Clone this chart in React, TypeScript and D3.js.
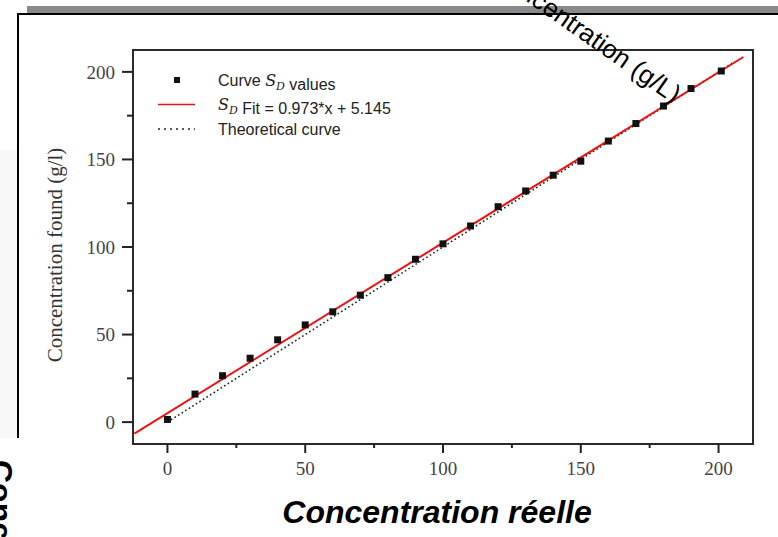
import React from "react";
import * as d3 from "d3";

const xValues = [0, 10, 20, 30, 40, 50, 60, 70, 80, 90, 100, 110, 120, 130, 140, 150, 160, 170, 180, 190, 201];
const yFound = [1.5, 16, 26.5, 36.5, 47, 55.5, 63, 72.5, 82.5, 93, 101.8, 112, 123, 132, 141, 149, 160.5, 170.5, 180.5, 190.5, 200.5];
const majorTicks = [0, 50, 100, 150, 200];
const minorTicks = [25, 75, 125, 175];
const fitSlope = 0.973;
const fitIntercept = 5.145;
const fitRange = [-12, 209];
const theoryRange = [0, 205];
const legendLabels = ["Curve ", " values", " Fit = 0.973*x + 5.145", "Theoretical curve"];

const W = 778, H = 537;
const plot = { left: 133, right: 753, top: 50, bottom: 444 };

export default function App() {
  const x = d3.scaleLinear().domain([-12.5, 212.5]).range([plot.left, plot.right]);
  const y = d3.scaleLinear().domain([-12.5, 212.5]).range([plot.bottom, plot.top]);
  const line = d3.line<[number, number]>().x(d => x(d[0])).y(d => y(d[1]));
  const fitPts: [number, number][] = fitRange.map(v => [v, fitSlope * v + fitIntercept]);
  const theoPts: [number, number][] = theoryRange.map(v => [v, v]);
  const serif = "'Liberation Serif', 'Times New Roman', serif";
  const sans = "'Liberation Sans', Arial, sans-serif";
  const SD = (
    <>
      <tspan fontFamily="'DejaVu Serif', serif" fontStyle="italic">S</tspan>
      <tspan fontFamily="'DejaVu Serif', serif" fontStyle="italic" fontSize={11} dy={4}>D</tspan>
      <tspan dy={-4}></tspan>
    </>
  );
  return (
    <svg width={W} height={H} style={{ position: "absolute", left: 0, top: 0, background: "#fff" }}>
      <rect x={0} y={150} width={17} height={288} fill="#f8f8f8" />
      <rect x={27} y={6} width={W - 27} height={7} fill="#8a8a8a" />
      <line x1={18} y1={14} x2={W} y2={14} stroke="#000" strokeWidth={2} />
      <line x1={18} y1={13} x2={18} y2={438} stroke="#000" strokeWidth={2} />

      {/* plot frame */}
      <rect x={plot.left} y={plot.top} width={plot.right - plot.left} height={plot.bottom - plot.top}
        fill="none" stroke="#2a2a2a" strokeWidth={2} />

      {/* y axis ticks */}
      {majorTicks.map(t => (
        <g key={"ym" + t}>
          <line x1={plot.left - 11} x2={plot.left} y1={y(t)} y2={y(t)} stroke="#222" strokeWidth={2} />
          <text x={plot.left - 18} y={y(t)} dy="0.35em" textAnchor="end" fontFamily={serif} fontSize={19} fill="#444">{t}</text>
        </g>
      ))}
      {minorTicks.map(t => (
        <line key={"yn" + t} x1={plot.left - 6} x2={plot.left} y1={y(t)} y2={y(t)} stroke="#222" strokeWidth={2} />
      ))}
      {/* x axis ticks */}
      {majorTicks.map(t => (
        <g key={"xm" + t}>
          <line x1={x(t)} x2={x(t)} y1={plot.bottom} y2={plot.bottom + 9} stroke="#222" strokeWidth={2} />
          <text x={x(t)} y={plot.bottom + 31} textAnchor="middle" fontFamily={serif} fontSize={19} fill="#444">{t}</text>
        </g>
      ))}
      {minorTicks.map(t => (
        <line key={"xn" + t} x1={x(t)} x2={x(t)} y1={plot.bottom} y2={plot.bottom + 4} stroke="#222" strokeWidth={2} />
      ))}

      <text transform={`translate(62, ${(plot.top + plot.bottom) / 2 + 8}) rotate(-90)`} textAnchor="middle"
        fontFamily={serif} fontSize={21} fill="#333">Concentration found (g/l)</text>

      {/* lines */}
      <path d={line(theoPts) || ""} fill="none" stroke="#222" strokeWidth={1.6} strokeDasharray="1.6 2.6" />
      <path d={line(fitPts) || ""} fill="none" stroke="#ee1111" strokeWidth={2} />
      {xValues.map((v, i) => (
        <rect key={i} x={x(v) - 3.5} y={y(yFound[i]) - 3.5} width={7} height={7} fill="#111" />
      ))}

      {/* legend */}
      <rect x={174} y={77} width={6} height={6} fill="#111" />
      <line x1={158} x2={195} y1={104.5} y2={104.5} stroke="#ee1111" strokeWidth={1.5} />
      <line x1={158} x2={195} y1={129} y2={129} stroke="#222" strokeWidth={1.5} strokeDasharray="2 4" />
      <g fontFamily={sans} fontSize={16} fill="#222">
        <text x={218} y={86}>{legendLabels[0]}{SD}{legendLabels[1]}</text>
        <text x={218} y={110}>{SD}{legendLabels[2]}</text>
        <text x={218} y={134.5}>{legendLabels[3]}</text>
      </g>

      <text x={437} y={523} textAnchor="middle" fontFamily={sans} fontWeight="bold" fontStyle="italic" fontSize={32} fill="#000">Concentration réelle</text>
      <text transform="translate(-10, 460) rotate(90)" fontFamily={sans} fontWeight="bold" fontSize={32} fill="#000">Concentration trouvée</text>
      <text transform="translate(673, 104) rotate(35)" textAnchor="end" fontFamily={sans} fontSize={26} fill="#000">Concentration (g/L)</text>
    </svg>
  );
}
